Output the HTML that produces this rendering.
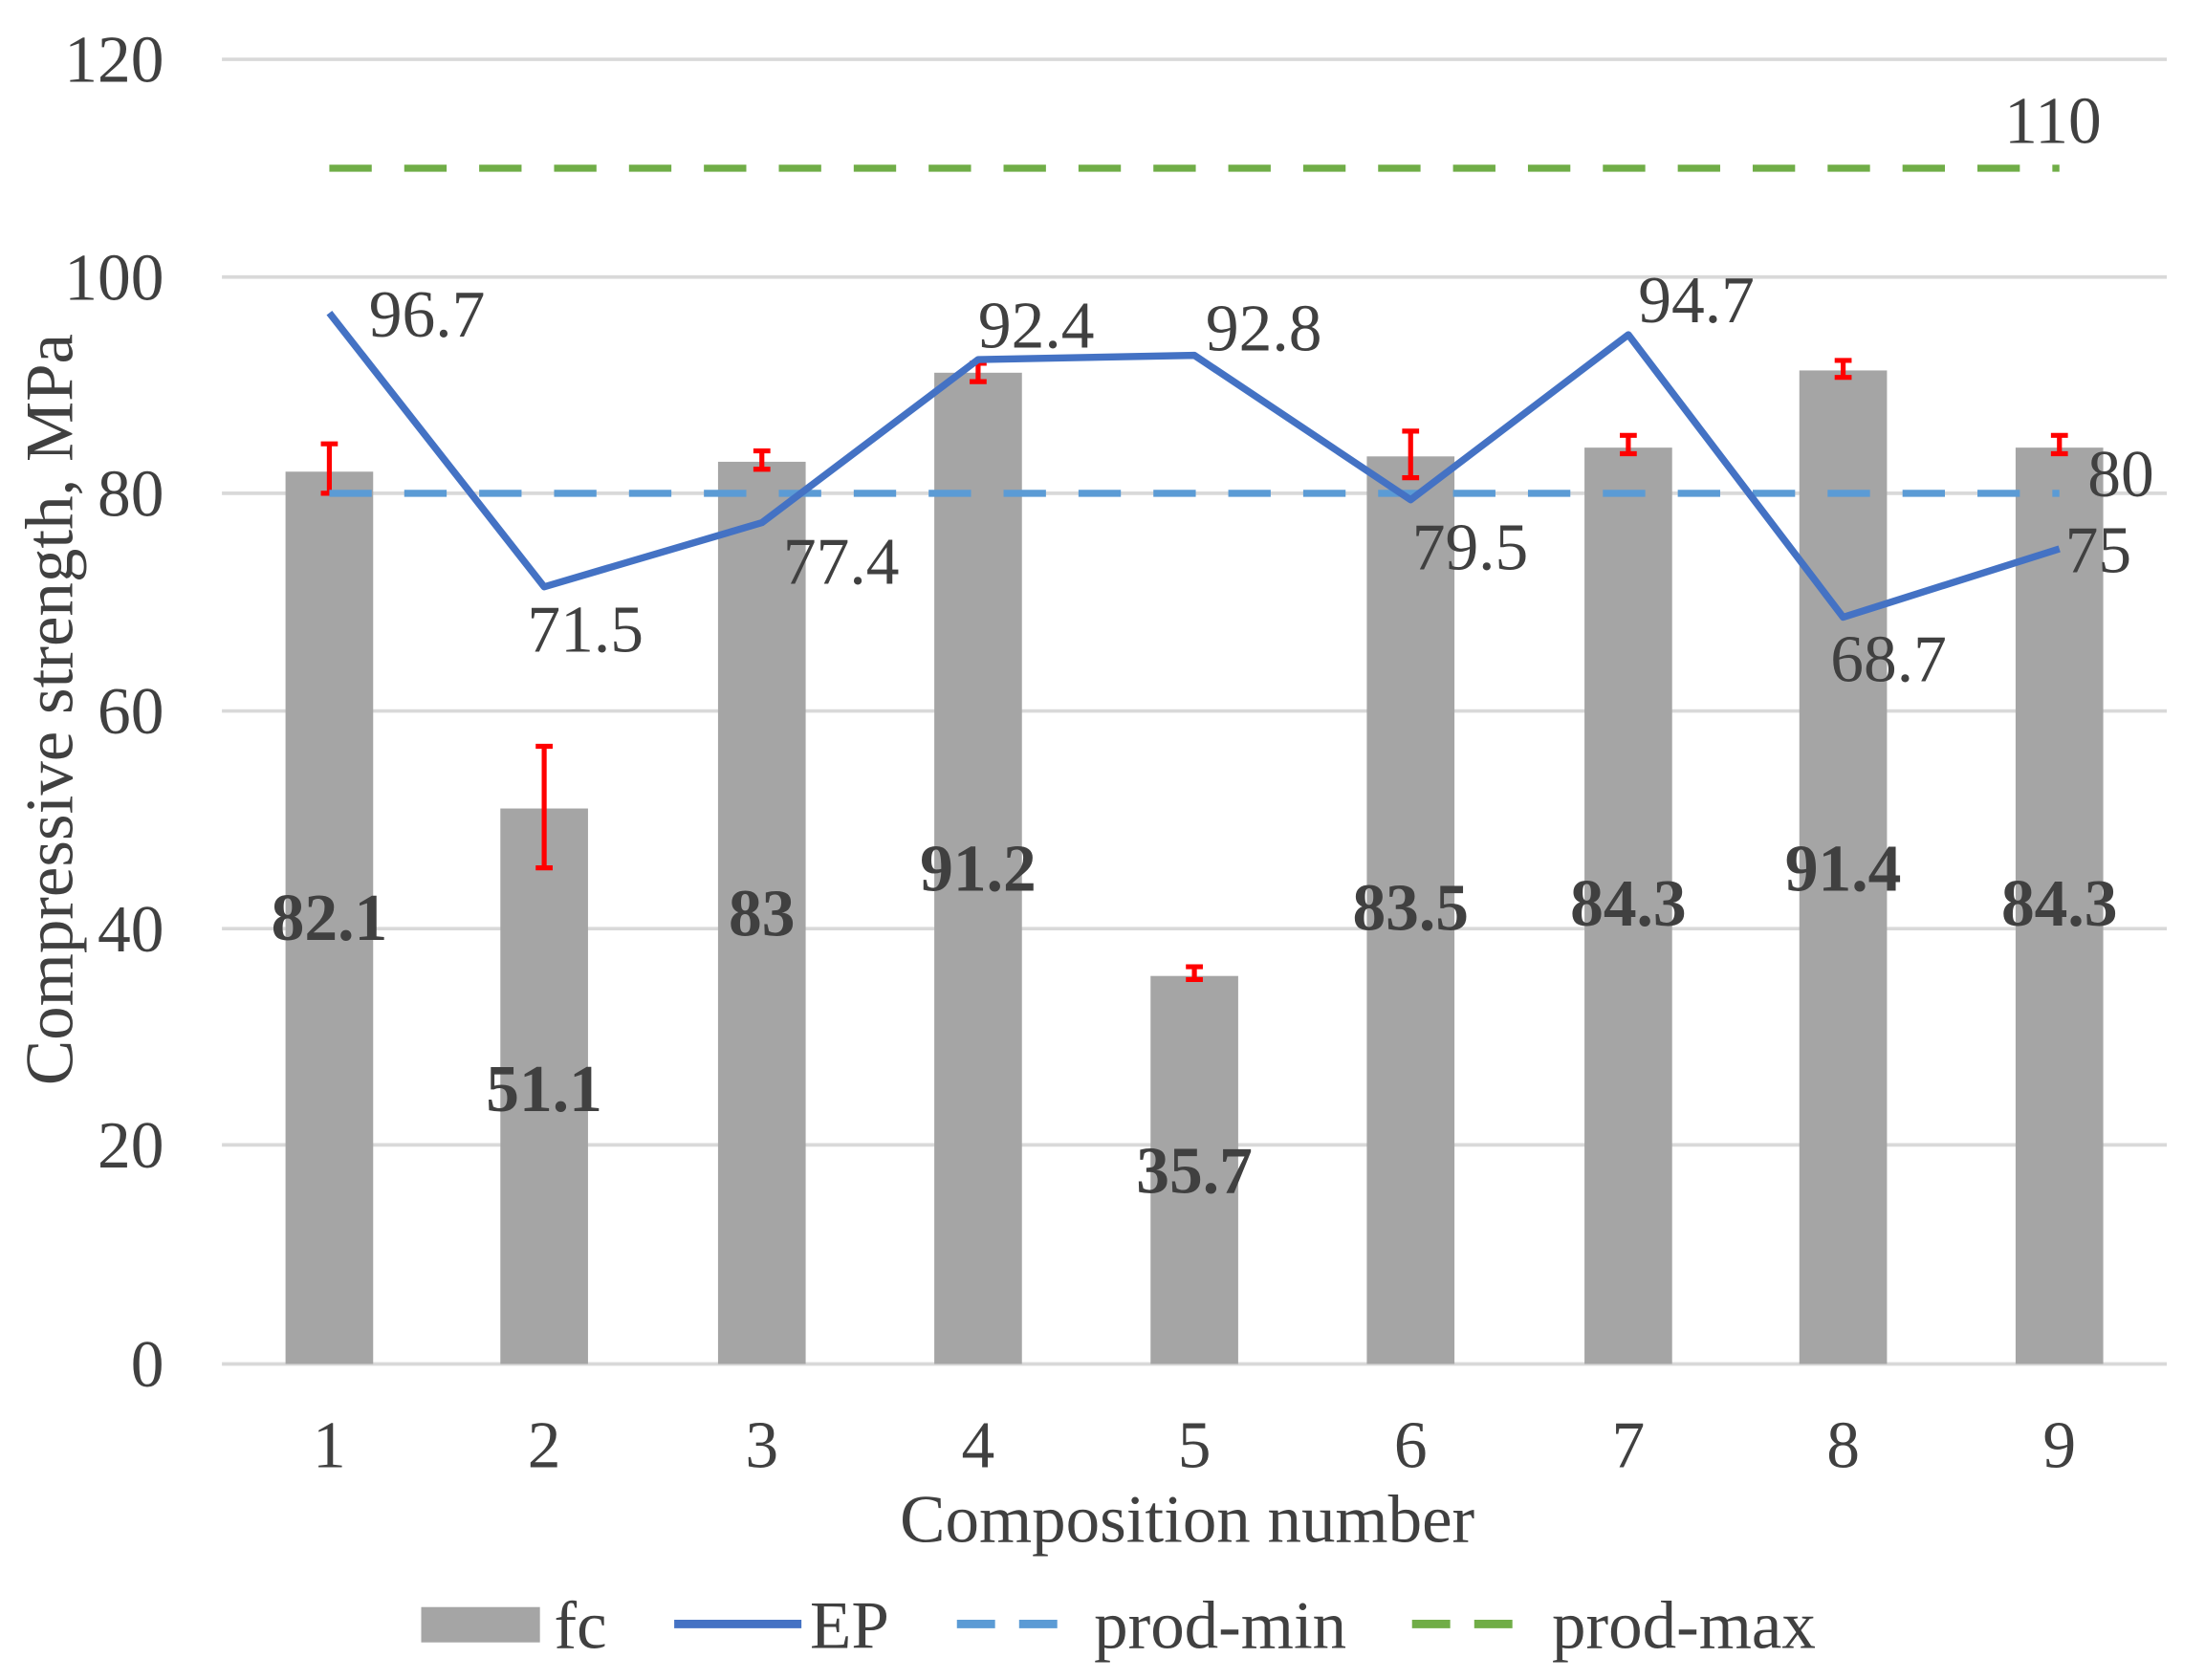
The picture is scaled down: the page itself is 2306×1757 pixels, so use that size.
<!DOCTYPE html>
<html><head><meta charset="utf-8"><style>
html,body{margin:0;padding:0;background:#fff;}
svg{display:block;}
text{font-family:"Liberation Serif","Times New Roman",serif;fill:#404040;}
</style></head><body>
<svg width="2306" height="1757" viewBox="0 0 1560 1188.6" preserveAspectRatio="none" xmlns="http://www.w3.org/2000/svg">
<g stroke="#d9d9d9" stroke-width="2.5">
<line x1="157" y1="42" x2="1533" y2="42"/>
<line x1="157" y1="196" x2="1533" y2="196"/>
<line x1="157" y1="349" x2="1533" y2="349"/>
<line x1="157" y1="503" x2="1533" y2="503"/>
<line x1="157" y1="657" x2="1533" y2="657"/>
<line x1="157" y1="810" x2="1533" y2="810"/>
<line x1="157" y1="965" x2="1533" y2="965"/>
</g>
<g font-size="47" text-anchor="end">
<text x="116" y="58">120</text><text x="116" y="212">100</text><text x="116" y="365">80</text>
<text x="116" y="519">60</text><text x="116" y="673">40</text><text x="116" y="826">20</text><text x="116" y="981">0</text>
</g>
<g fill="#a5a5a5">
<rect x="202" y="333.7" width="62" height="631.3"/>
<rect x="354" y="572" width="62" height="393"/>
<rect x="508" y="326.7" width="62" height="638.3"/>
<rect x="661" y="263.7" width="62" height="701.3"/>
<rect x="814" y="690.5" width="62" height="274.5"/>
<rect x="967" y="322.9" width="62" height="642.1"/>
<rect x="1121" y="316.7" width="62" height="648.3"/>
<rect x="1273" y="262.1" width="62" height="702.9"/>
<rect x="1426" y="316.7" width="62" height="648.3"/>
</g>
<g stroke="#ff0000" stroke-width="3.5" fill="none">
<path d="M233 349V314M227 314H239M227 349H239"/>
<path d="M385 614V528M379 528H391M379 614H391"/>
<path d="M539 332V319M533 319H545M533 332H545"/>
<path d="M692 270V257M686 257H698M686 270H698"/>
<path d="M845 693V684M839 684H851M839 693H851"/>
<path d="M998 338V305M992 305H1004M992 338H1004"/>
<path d="M1152 321V308M1146 308H1158M1146 321H1158"/>
<path d="M1304 267V255M1298 255H1310M1298 267H1310"/>
<path d="M1457 321V308M1451 308H1463M1451 321H1463"/>
</g>
<line x1="233" y1="349" x2="1457" y2="349" stroke="#5b9bd5" stroke-width="5" stroke-dasharray="30 23"/>
<line x1="233" y1="119" x2="1457" y2="119" stroke="#70ad47" stroke-width="5" stroke-dasharray="30 23"/>
<polyline points="233,221.4 385,415.2 539,369.8 692,254.4 845,251.4 998,353.6 1152,236.8 1304,436.7 1457,388.3" fill="none" stroke="#4472c4" stroke-width="5" stroke-linejoin="round"/>
<g font-size="47">
<text x="261" y="238">96.7</text><text x="373" y="461">71.5</text><text x="554" y="413">77.4</text>
<text x="692" y="246">92.4</text><text x="853" y="248">92.8</text><text x="999" y="403">79.5</text>
<text x="1159" y="228">94.7</text><text x="1295" y="482">68.7</text><text x="1461" y="405">75</text>
<text x="1418" y="101">110</text><text x="1477" y="351">80</text>
</g>
<g font-size="47" font-weight="bold" text-anchor="middle" style="fill:#404040">
<text x="233" y="665">82.1</text><text x="385" y="786">51.1</text><text x="539" y="662">83</text>
<text x="692" y="630">91.2</text><text x="845" y="844">35.7</text><text x="998" y="658">83.5</text>
<text x="1152" y="655">84.3</text><text x="1304" y="630">91.4</text><text x="1457" y="655">84.3</text>
</g>
<g font-size="47" text-anchor="middle">
<text x="233" y="1038">1</text><text x="385" y="1038">2</text><text x="539" y="1038">3</text>
<text x="692" y="1038">4</text><text x="845" y="1038">5</text><text x="998" y="1038">6</text>
<text x="1152" y="1038">7</text><text x="1304" y="1038">8</text><text x="1457" y="1038">9</text>
<text x="840" y="1091" font-size="48">Composition number</text>
<text transform="translate(51,502) rotate(-90)" font-size="48">Compressive strength, MPa</text>
</g>
<rect x="298" y="1137" width="84" height="25" fill="#a5a5a5"/>
<text x="392" y="1166" font-size="48">fc</text>
<line x1="477" y1="1149" x2="567" y2="1149" stroke="#4472c4" stroke-width="6"/>
<text x="573" y="1166" font-size="48">EP</text>
<line x1="677" y1="1149" x2="760" y2="1149" stroke="#5b9bd5" stroke-width="6" stroke-dasharray="27 17"/>
<text x="774" y="1166" font-size="48">prod-min</text>
<line x1="999" y1="1149" x2="1082" y2="1149" stroke="#70ad47" stroke-width="6" stroke-dasharray="27 17"/>
<text x="1098" y="1166" font-size="48">prod-max</text>
</svg>
</body></html>
